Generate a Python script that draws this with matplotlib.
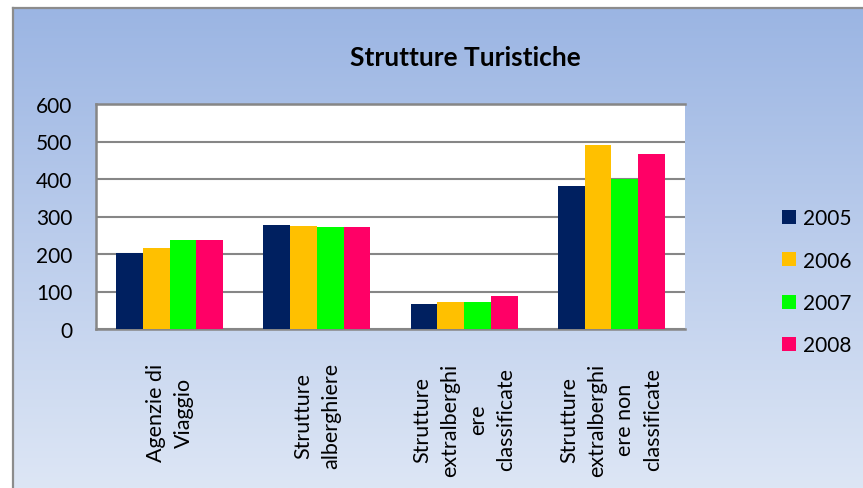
import numpy as np
import matplotlib
matplotlib.use("Agg")
import matplotlib.pyplot as plt
from matplotlib.lines import Line2D
from matplotlib.colors import LinearSegmentedColormap

plt.rcParams['font.family'] = ['Lato', 'DejaVu Sans']

categories = ["Agenzie di\nViaggio", "Strutture\nalberghiere",
              "Strutture\nextralberghi\nere\nclassificate",
              "Strutture\nextralberghi\nere non\nclassificate"]
years = ["2005", "2006", "2007", "2008"]
values_2005 = [202, 277, 67, 381]
values_2006 = [217, 276, 72, 492]
values_2007 = [237, 272, 72, 401]
values_2008 = [237, 273, 87, 467]
series = [values_2005, values_2006, values_2007, values_2008]
colors = ["#002060", "#FFC000", "#00FF00", "#FF0066"]
yticks = [0, 100, 200, 300, 400, 500, 600]
title = "Strutture Turistiche"

W, H = 863, 489
fig = plt.figure(figsize=(W/100, H/100), dpi=100, facecolor="white")

# chart area background with gradient
bg = fig.add_axes([13/W, 0, 1 - 13/W, 1 - 9/H], zorder=0)
grad = np.linspace(0, 1, 256).reshape(-1, 1)
cmap = LinearSegmentedColormap.from_list("g", ["#9BB5E3", "#DDE6F5"])
bg.imshow(grad, aspect="auto", cmap=cmap, extent=[0, 1, 0, 1], origin="upper")
bg.set_xticks([]); bg.set_yticks([])
for s in ["right", "bottom"]:
    bg.spines[s].set_visible(False)
for s in ["left", "top"]:
    bg.spines[s].set_color("#8C8C8C")
    bg.spines[s].set_linewidth(1.6)

ax = fig.add_axes([96/W, (H-330)/H, 589/W, 225/H], zorder=1)
ax.set_facecolor("white")
n = len(series)
bw = 1/5.5
x = np.arange(len(categories))
for i, (vals, c) in enumerate(zip(series, colors)):
    ax.bar(x + (i - (n-1)/2)*bw, vals, width=bw, color=c, edgecolor="none", zorder=3)

ax.set_xlim(-0.5, len(categories)-0.5)
ax.set_ylim(0, 600)
ax.set_yticks(yticks)
ax.set_yticklabels([str(v) for v in yticks], fontsize=15)
ax.yaxis.grid(True, color="#868686", linewidth=1.5, zorder=1)
ax.set_axisbelow(True)
ax.tick_params(axis="y", length=0, pad=17)
ax.tick_params(axis="x", length=0, pad=24)
ax.set_xticks(x)
ax.set_xticklabels(categories, rotation=90, fontsize=15.5, ha="center", va="top",
                   multialignment="center", linespacing=1.5)
for s in ["right"]:
    ax.spines[s].set_visible(False)
for s in ["left", "bottom", "top"]:
    ax.spines[s].set_color("#868686")
    ax.spines[s].set_linewidth(1.8)

fig.text(465/W, 1 - 57.5/H, title, fontsize=19, fontweight="bold", ha="center", va="center")

handles = [Line2D([], [], marker="s", linestyle="None", markersize=10.5,
                  markerfacecolor=c, markeredgewidth=0) for c in colors]
fig.legend(handles, years, loc="upper left", bbox_to_anchor=(770/W, 1 - 199/H),
           frameon=False, fontsize=15, handlelength=0.8, handletextpad=0.3,
           labelspacing=1.07, borderpad=0)

fig.savefig("out.png", dpi=100, facecolor="white")
